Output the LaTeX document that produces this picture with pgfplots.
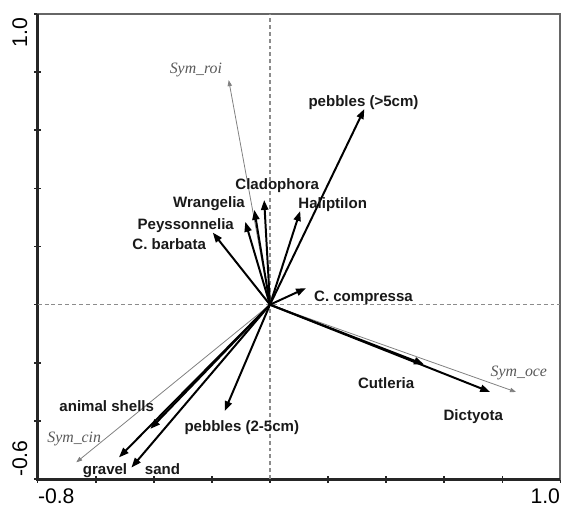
\documentclass[border=0pt]{standalone}
\usepackage{fontspec}
\setmainfont{Liberation Sans}
\newfontfamily\tms{Liberation Serif}
\usepackage{pgfplots}
\pgfplotsset{compat=1.18}
\usetikzlibrary{arrows.meta}
\tikzset{
  arr/.style={black, line width=1pt, -{Triangle[length=5pt,width=3.6pt]}},
  sym/.style={black!50, line width=0.4pt, -{Triangle[length=3pt,width=2.2pt]}},
  lab/.style={font=\bfseries\fontsize{7.6pt}{9pt}\selectfont, inner sep=0pt, text height=1.38ex, text depth=0pt, text=black!90},
  slab/.style={font=\tms\itshape\fontsize{8pt}{9pt}\selectfont, inner sep=0pt, text=black!65},
  tl/.style={inner sep=0pt, font=\fontsize{10.7pt}{12pt}\selectfont},
}
\begin{document}
\begin{tikzpicture}
\begin{axis}[
  scale only axis, width=264pt, height=235pt,
  xmin=-0.8, xmax=1.0, ymin=-0.6, ymax=1.0,
  xtick={-0.8,-0.6,...,1.01}, ytick={-0.6,-0.4,...,1.01},
  xticklabels={}, yticklabels={},
  xtick pos=bottom, ytick pos=left,
  tick align=center, major tick length=3.5pt,
  tick style={black!85, line width=0.8pt},
  axis line style={black!60, line width=1pt},
  clip=false,
]
% frame emphasis on left and bottom
\draw[black!85, line width=1.4pt] (rel axis cs:0,1) -- (rel axis cs:0,0) -- (rel axis cs:1,0);
% zero lines
\draw[black!45, line width=0.6pt, dash pattern=on 2pt off 1.5pt] (axis cs:0,-0.6) -- (axis cs:0,1.0);
\draw[black!45, line width=0.6pt, dash pattern=on 2pt off 1.5pt] (axis cs:-0.8,0) -- (axis cs:1.0,0);

% supplementary (grey) vectors
\addplot[sym] coordinates {(0,0) (-0.142,0.772)};
\addplot[sym] coordinates {(0,0) (0.847,-0.300)};
\addplot[sym] coordinates {(0,0) (-0.667,-0.542)};

% main vectors
\addplot[arr] coordinates {(0,0) (0.325,0.673)};
\addplot[arr] coordinates {(0,0) (-0.020,0.360)};
\addplot[arr] coordinates {(0,0) (-0.054,0.326)};
\addplot[arr] coordinates {(0,0) (-0.085,0.285)};
\addplot[arr] coordinates {(0,0) (-0.197,0.248)};
\addplot[arr] coordinates {(0,0) (0.104,0.322)};
\addplot[arr] coordinates {(0,0) (0.124,0.057)};
\addplot[arr] coordinates {(0,0) (0.758,-0.300)};
\addplot[arr] coordinates {(0,0) (0.530,-0.205)};
\addplot[arr] coordinates {(0,0) (-0.412,-0.427)};
\addplot[arr] coordinates {(0,0) (-0.520,-0.525)};
\addplot[arr] coordinates {(0,0) (-0.477,-0.560)};
\addplot[arr] coordinates {(0,0) (-0.156,-0.366)};

% labels
\node[slab] at (axis cs:-0.255,0.806) {Sym\_roi};
\node[slab] at (axis cs:0.857,-0.236) {Sym\_oce};
\node[slab] at (axis cs:-0.674,-0.460) {Sym\_cin};
\node[lab] at (axis cs:0.322,0.707) {pebbles (>5cm)};
\node[lab] at (axis cs:0.025,0.420) {Cladophora};
\node[lab] at (axis cs:-0.210,0.360) {Wrangelia};
\node[lab] at (axis cs:-0.290,0.284) {Peyssonnelia};
\node[lab] at (axis cs:-0.347,0.213) {C. barbata};
\node[lab] at (axis cs:0.216,0.357) {Haliptilon};
\node[lab] at (axis cs:0.322,0.037) {C. compressa};
\node[lab] at (axis cs:0.400,-0.263) {Cutleria};
\node[lab] at (axis cs:0.700,-0.372) {Dictyota};
\node[lab] at (axis cs:-0.562,-0.341) {animal shells};
\node[lab] at (axis cs:-0.568,-0.560) {gravel};
\node[lab] at (axis cs:-0.370,-0.560) {sand};
\node[lab] at (axis cs:-0.097,-0.410) {pebbles (2-5cm)};

% corner tick labels
\node[tl, anchor=north west, yshift=-4.5pt] at (rel axis cs:0,0) {-0.8};
\node[tl, anchor=north east, yshift=-4.5pt] at (rel axis cs:1,0) {1.0};
\node[tl, anchor=south west, rotate=90, yshift=5pt, xshift=1pt] at (rel axis cs:0,0) {-0.6};
\node[tl, anchor=south east, rotate=90, yshift=5pt, xshift=-2pt] at (rel axis cs:0,1) {1.0};

\coordinate (ll) at (rel axis cs:0,0);
\coordinate (ur) at (rel axis cs:1,1);
\end{axis}
\path ([shift={(-19pt,-14.5pt)}]ll) rectangle ([shift={(0.5pt,7pt)}]ur);
\end{tikzpicture}
\end{document}
